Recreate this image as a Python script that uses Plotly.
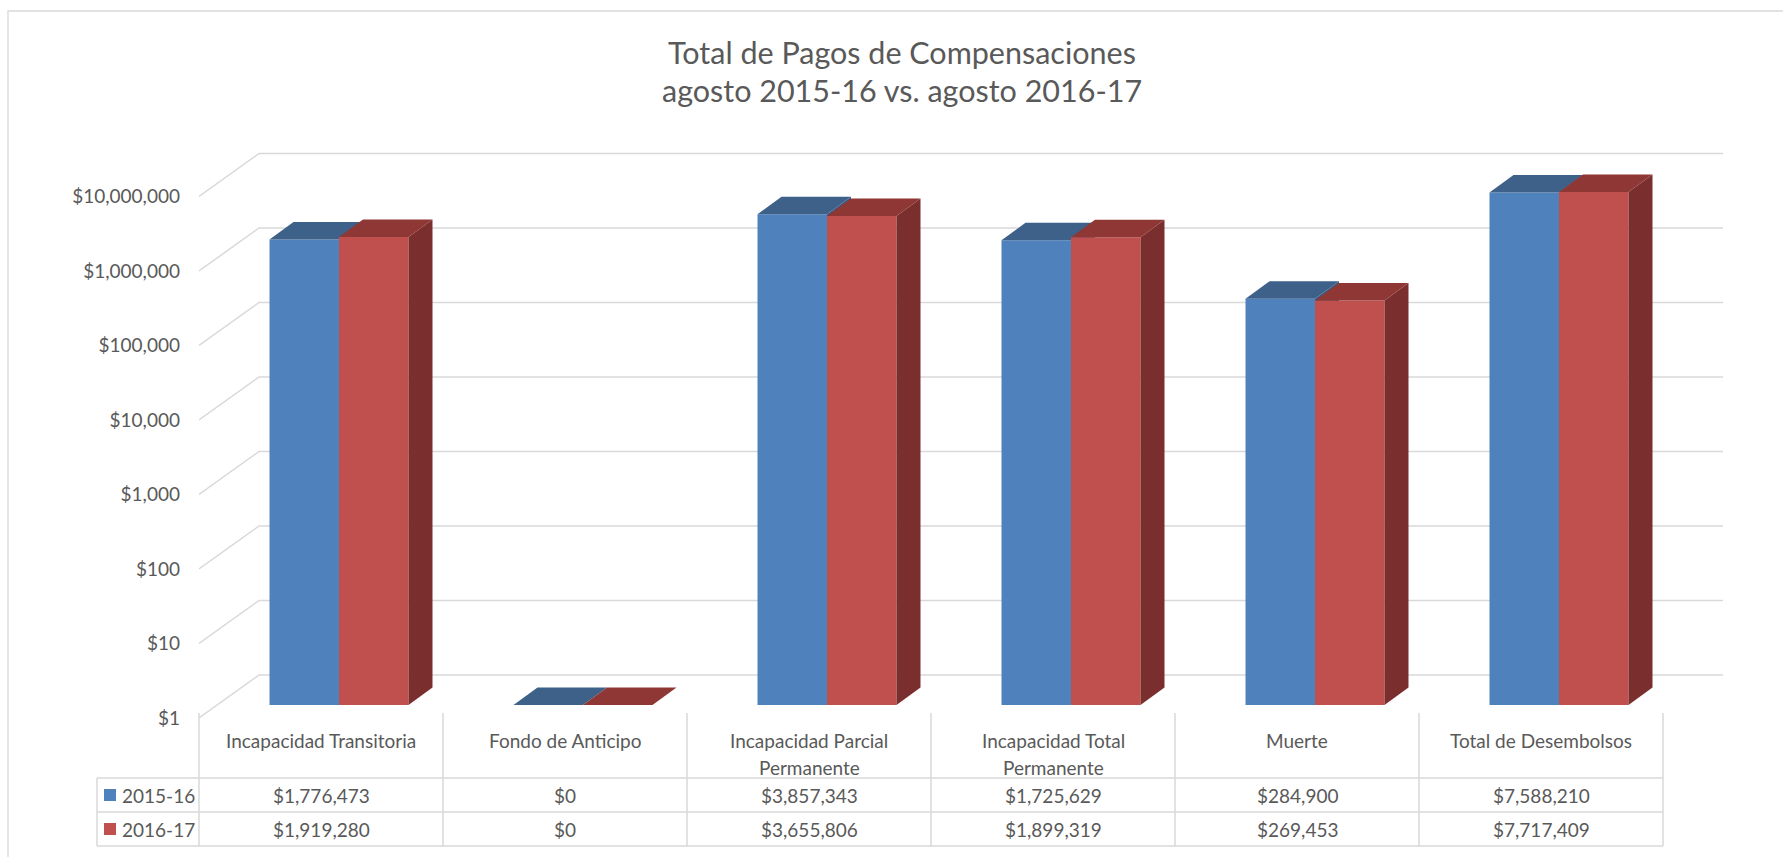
import plotly.graph_objects as go

# ---------------- data ----------------
categories = ["Incapacidad Transitoria", "Fondo de Anticipo", "Incapacidad Parcial\nPermanente",
              "Incapacidad Total\nPermanente", "Muerte", "Total de Desembolsos"]
series_names = ["2015-16", "2016-17"]
values_2015_16 = [1776473, 0, 3857343, 1725629, 284900, 7588210]
values_2016_17 = [1919280, 0, 3655806, 1899319, 269453, 7717409]
y_tick_values = [1, 10, 100, 1000, 10000, 100000, 1000000, 10000000]
y_tick_labels = ["$1", "$10", "$100", "$1,000", "$10,000", "$100,000", "$1,000,000", "$10,000,000"]
title_lines = ["Total de Pagos de Compensaciones", "agosto 2015-16 vs. agosto 2016-17"]

# ---------------- layout geometry (pixels) ----------------
W, H = 1783, 857
FONT = "Lato"
TXT = "#595959"
GRID = "#d9d9d9"
FRONT_LEFT, WALL_LEFT, CAT_W = 199, 259, 244
DEC = 74.5            # px per decade
WALL_Y1 = 675         # px of $1 on back wall
PLOT_TOP, PLOT_BOTTOM = 150, 720
FRONT_DX, FRONT_DY = 60, 43     # front plane offset from wall
BAR_DX, BAR_DY = 42, 30         # bar front faces offset from wall
DEPTH_DX, DEPTH_DY = 24, 17.5   # bar depth
BAR_W = 69.5

def pxx(p):
    return p / W

def pxy(p):
    return 1 - p / H

n = len(categories)
x_lo = -0.5 - FRONT_DX / CAT_W
x_hi = n - 0.5
y_lo = (WALL_Y1 - PLOT_BOTTOM) / DEC
y_hi = (WALL_Y1 - PLOT_TOP) / DEC
dom_x = [pxx(FRONT_LEFT), pxx(WALL_LEFT + CAT_W * n)]
dom_y = [pxy(PLOT_BOTTOM), pxy(PLOT_TOP)]

fig = go.Figure()

# ---- gridlines (wall + slanted side) ----
gx, gy = [], []
for v in y_tick_values:
    gx += [x_lo, -0.5, x_hi, None]
    gy += [v * 10 ** (-FRONT_DY / DEC), v, v, None]
fig.add_trace(go.Scatter(x=gx, y=gy, mode="lines", line=dict(color=GRID, width=1.5),
                         hoverinfo="skip", showlegend=False, xaxis="x", yaxis="y"))

# dummy trace for the front-plane label axis
fig.add_trace(go.Scatter(x=[0], y=[1], mode="markers", marker=dict(opacity=0),
                         hoverinfo="skip", showlegend=False, xaxis="x", yaxis="y2"))

# ---- 3D-ish bars (each series on its own overlay subplot, drawn in order) ----
bw = BAR_W / CAT_W
ddx = DEPTH_DX / CAT_W
kk = 10 ** (DEPTH_DY / DEC)
styles = [
    dict(front="#4F81BD", top="#3D6189", side="#385A83", offset=-bw, xa="x2", ya="y3"),
    dict(front="#C0504D", top="#8F3735", side="#7A2F2E", offset=0.0, xa="x3", ya="y4"),
]
for vals, name, st in zip([values_2015_16, values_2016_17], series_names, styles):
    vc = [max(v, 1) for v in vals]
    fig.add_trace(go.Bar(x=list(range(n)), y=[v - 1 for v in vc], base=[1] * n,
                         width=[bw] * n, offset=[st["offset"]] * n,
                         marker=dict(color=st["front"], line=dict(width=0)),
                         name=name, showlegend=False, xaxis=st["xa"], yaxis=st["ya"],
                         hovertext=[f"${v:,}" for v in vals], hoverinfo="text"))
    sx, sy, tx, ty = [], [], [], []
    for i, v in enumerate(vc):
        xl = i + st["offset"]
        xr = xl + bw
        sx += [xr, xr, xr + ddx, xr + ddx, xr, None]
        sy += [1, v, v * kk, kk, 1, None]
        tx += [xl, xr, xr + ddx, xl + ddx, xl, None]
        ty += [v, v, v * kk, v * kk, v, None]
    fig.add_trace(go.Scatter(x=sx, y=sy, fill="toself", fillcolor=st["side"], mode="lines",
                             line=dict(width=0, color=st["side"]), hoverinfo="skip",
                             showlegend=False, xaxis=st["xa"], yaxis=st["ya"]))
    fig.add_trace(go.Scatter(x=tx, y=ty, fill="toself", fillcolor=st["top"], mode="lines",
                             line=dict(width=0, color=st["top"]), hoverinfo="skip",
                             showlegend=False, xaxis=st["xa"], yaxis=st["ya"]))

# ---------------- data table ----------------
shapes = []
annotations = []
col_x = [FRONT_LEFT + CAT_W * k for k in range(n + 1)]
T_TOP, T_HDR, T_R1, T_R2 = 713, 778, 812, 846
T_LEFT = 97
line = dict(color=GRID, width=1.5)
for cx in col_x:
    shapes.append(dict(type="line", xref="paper", yref="paper", x0=pxx(cx), x1=pxx(cx),
                       y0=pxy(T_TOP), y1=pxy(T_R2), line=line))
for ry in [T_HDR, T_R1, T_R2]:
    shapes.append(dict(type="line", xref="paper", yref="paper", x0=pxx(T_LEFT), x1=pxx(col_x[-1]),
                       y0=pxy(ry), y1=pxy(ry), line=line))
shapes.append(dict(type="line", xref="paper", yref="paper", x0=pxx(T_LEFT), x1=pxx(T_LEFT),
                   y0=pxy(T_HDR), y1=pxy(T_R2), line=line))

fs = 19
for i, cat in enumerate(categories):
    cx = pxx(col_x[i] + CAT_W / 2)
    for j, ln in enumerate(cat.split("\n")):
        annotations.append(dict(x=cx, y=pxy(740 + 27 * j), xref="paper", yref="paper", text=ln,
                                showarrow=False, xanchor="center", yanchor="middle",
                                font=dict(family=FONT, size=fs, color=TXT)))
row_centers = [(T_HDR + T_R1) / 2, (T_R1 + T_R2) / 2]
for vals, name, st, ry in zip([values_2015_16, values_2016_17], series_names, styles, row_centers):
    for i, v in enumerate(vals):
        annotations.append(dict(x=pxx(col_x[i] + CAT_W / 2), y=pxy(ry), xref="paper", yref="paper",
                                text=f"${v:,}", showarrow=False, xanchor="center", yanchor="middle",
                                font=dict(family=FONT, size=fs, color=TXT)))
    shapes.append(dict(type="rect", xref="paper", yref="paper", x0=pxx(104), x1=pxx(116),
                       y0=pxy(ry - 6), y1=pxy(ry + 6), fillcolor=st["front"], line=dict(width=0)))
    annotations.append(dict(x=pxx(120), y=pxy(ry), xref="paper", yref="paper", text=name,
                            showarrow=False, xanchor="left", yanchor="middle",
                            font=dict(family=FONT, size=fs, color=TXT)))

# title
for j, t in enumerate(title_lines):
    annotations.append(dict(x=pxx(902), y=pxy(52 + 38 * j), xref="paper", yref="paper", text=t,
                            showarrow=False, xanchor="center", yanchor="middle",
                            font=dict(family=FONT, size=30.5, color=TXT)))

# chart border
shapes.append(dict(type="rect", xref="paper", yref="paper", x0=pxx(8), x1=1.01, y0=-0.01, y1=pxy(11),
                   line=dict(color=GRID, width=1.3), fillcolor="rgba(0,0,0,0)", layer="below"))

front_shift = FRONT_DY / DEC
bar_shift_y = BAR_DY / DEC
bar_shift_x = BAR_DX / CAT_W
bar_xrange = [x_lo + bar_shift_x, x_hi + bar_shift_x]
bar_yrange = [y_lo + bar_shift_y, y_hi + bar_shift_y]

fig.update_layout(
    width=W, height=H,
    margin=dict(l=0, r=0, t=0, b=0),
    paper_bgcolor="white", plot_bgcolor="rgba(0,0,0,0)",
    barmode="overlay",
    showlegend=False,
    xaxis=dict(domain=dom_x, range=[x_lo, x_hi], visible=False, fixedrange=True),
    yaxis=dict(domain=dom_y, type="log", range=[y_lo, y_hi], visible=False, fixedrange=True),
    yaxis2=dict(overlaying="y", side="left", anchor="x", type="log",
                range=[y_lo + front_shift, y_hi + front_shift],
                tickvals=y_tick_values, ticktext=y_tick_labels,
                showgrid=False, zeroline=False, showline=False, ticks="",
                ticklabelstandoff=18, automargin=False,
                tickfont=dict(family=FONT, size=fs, color=TXT)),
    xaxis2=dict(overlaying="x", range=bar_xrange, visible=False),
    yaxis3=dict(overlaying="y", type="log", range=bar_yrange, visible=False),
    xaxis3=dict(overlaying="x", range=bar_xrange, visible=False),
    yaxis4=dict(overlaying="y", type="log", range=bar_yrange, visible=False),
    shapes=shapes,
    annotations=annotations,
)

fig.write_html("out.html", config={"displayModeBar": False},
               post_script="document.body.style.margin='0px';document.body.style.overflow='hidden';")
